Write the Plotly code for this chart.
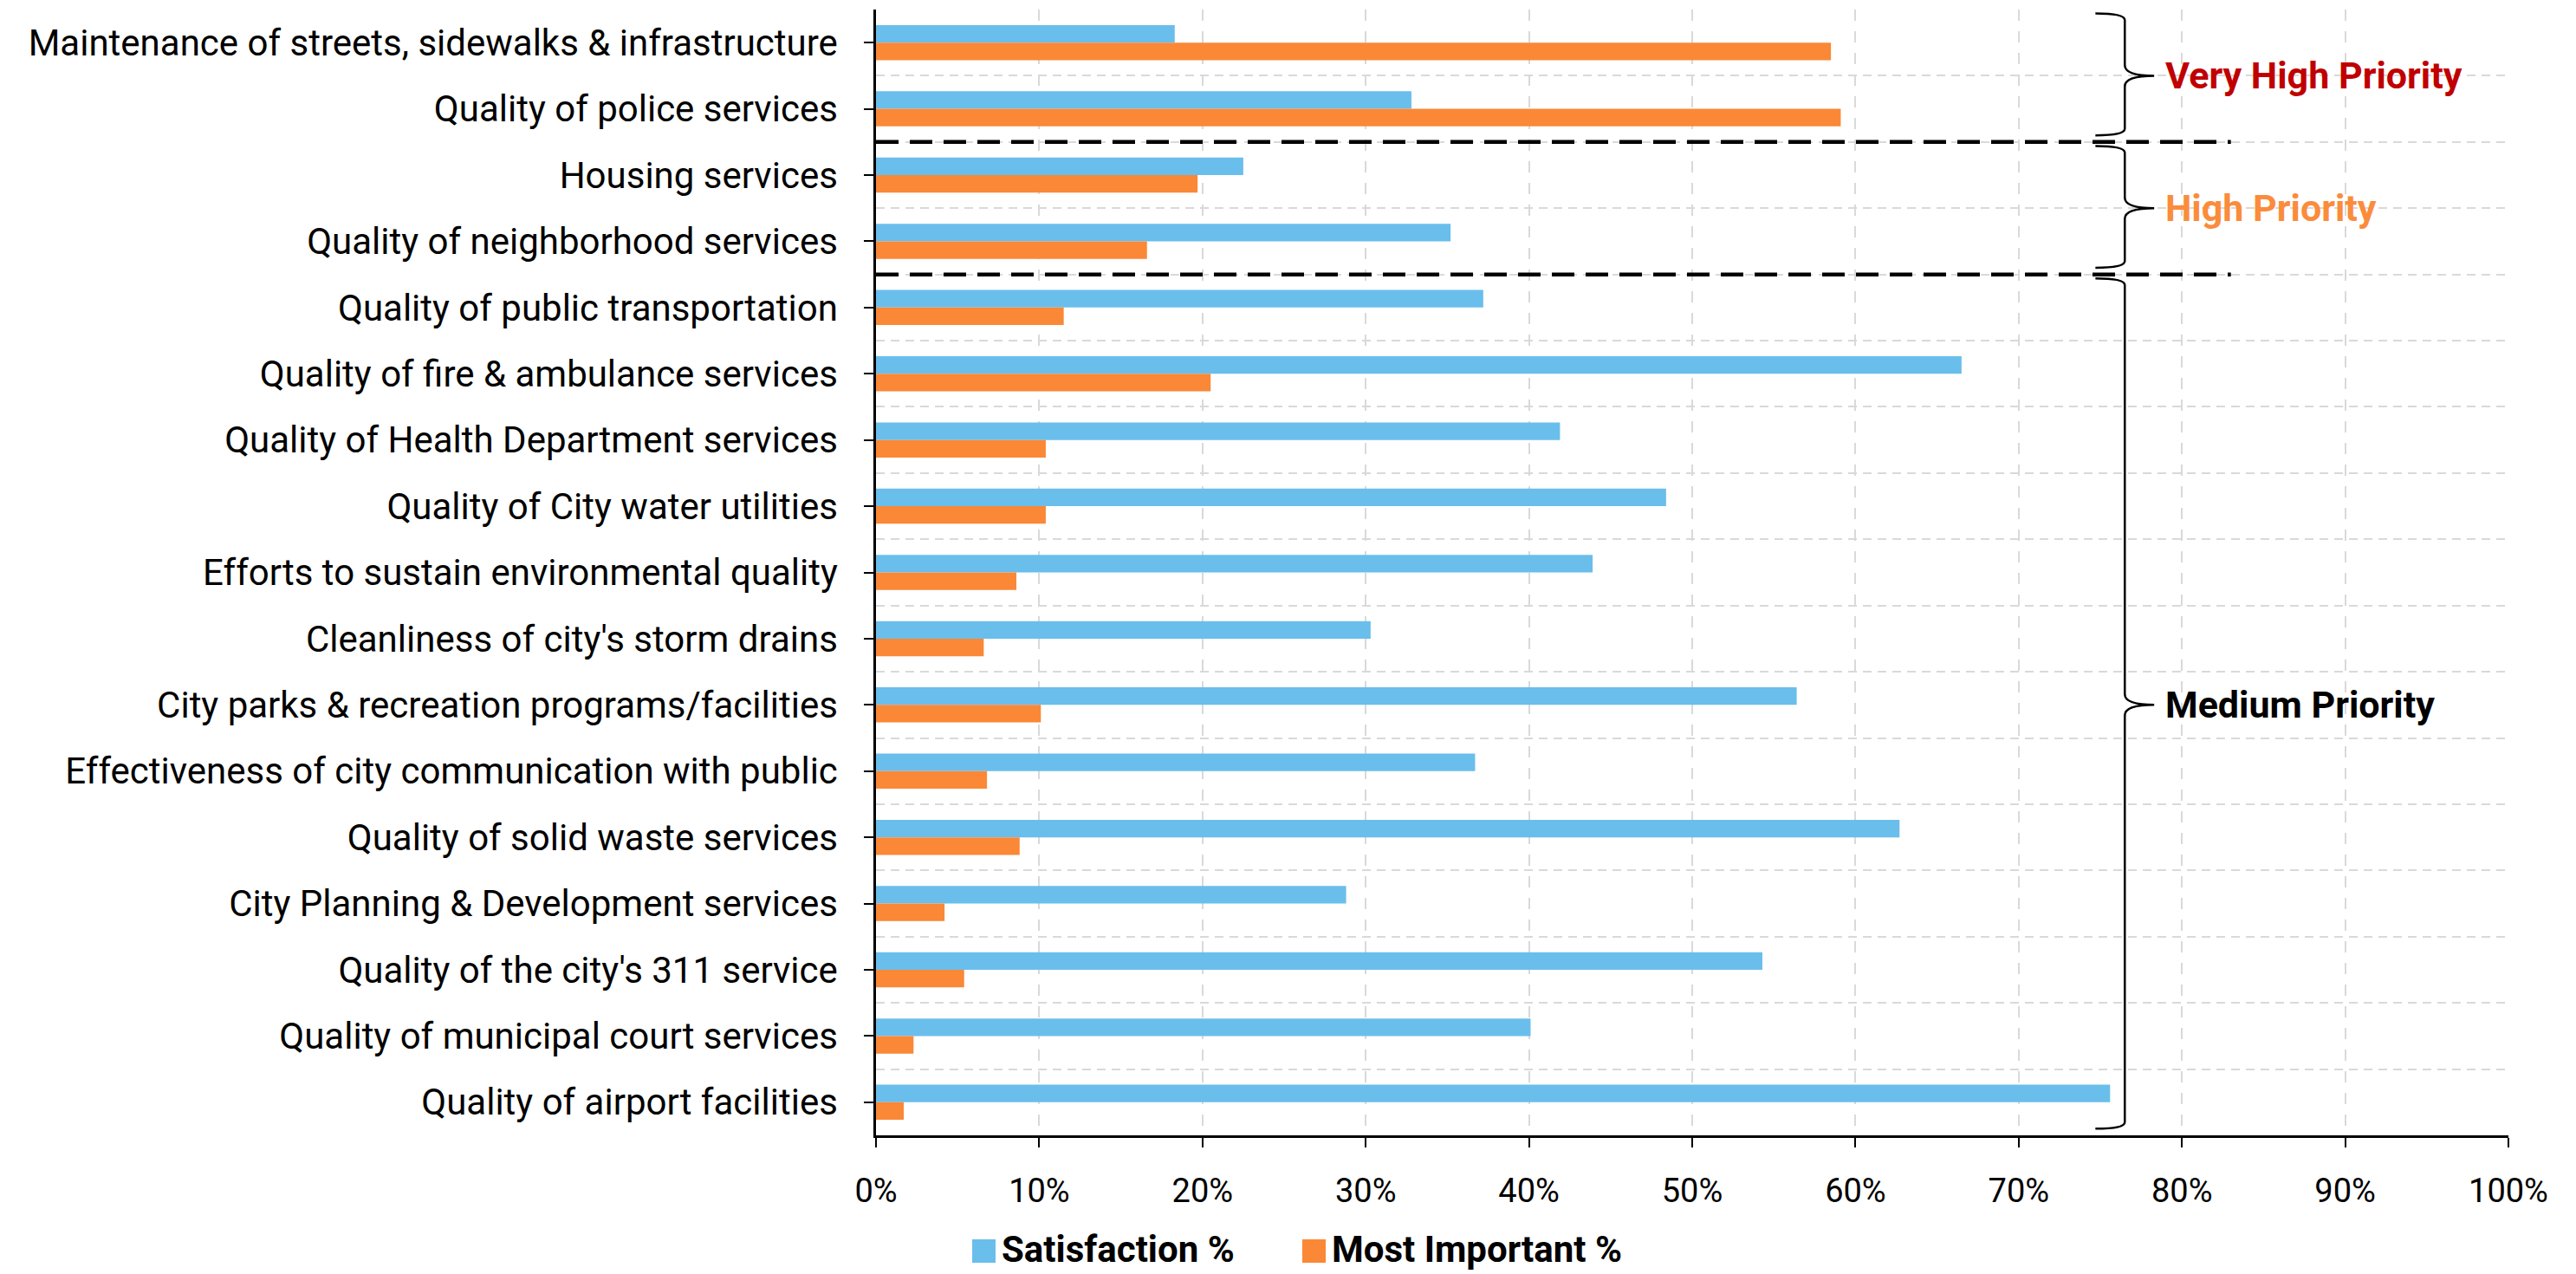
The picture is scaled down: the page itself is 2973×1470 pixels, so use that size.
import plotly.graph_objects as go

categories = [
    "Maintenance of streets, sidewalks & infrastructure",
    "Quality of police services",
    "Housing services",
    "Quality of neighborhood services",
    "Quality of public transportation",
    "Quality of fire & ambulance services",
    "Quality of Health Department services",
    "Quality of City water utilities",
    "Efforts to sustain environmental quality",
    "Cleanliness of city's storm drains",
    "City parks & recreation programs/facilities",
    "Effectiveness of city communication with public",
    "Quality of solid waste services",
    "City Planning & Development services",
    "Quality of the city's 311 service",
    "Quality of municipal court services",
    "Quality of airport facilities",
]
satisfaction = [0.183, 0.328, 0.225, 0.352, 0.372, 0.665, 0.419, 0.484, 0.439,
                0.303, 0.564, 0.367, 0.627, 0.288, 0.543, 0.401, 0.756]
most_important = [0.585, 0.591, 0.197, 0.166, 0.115, 0.205, 0.104, 0.104, 0.086,
                  0.066, 0.101, 0.068, 0.088, 0.042, 0.054, 0.023, 0.017]
x_tick_vals = [0.0, 0.1, 0.2, 0.3, 0.4, 0.5, 0.6, 0.7, 0.8, 0.9, 1.0]
x_tick_labels = ["0%", "10%", "20%", "30%", "40%", "50%", "60%", "70%", "80%", "90%", "100%"]
series_names = ["Satisfaction %", "Most Important %"]
priority_names = ["Very High Priority", "High Priority", "Medium Priority"]
priority_first = [0, 2, 4]
priority_last = [1, 3, 16]

BLUE = "#6ABEEB"
ORANGE = "#FA8836"
PRIORITY_COLORS = ["#C00000", "#FA8C3C", "#000000"]
FONT = "Roboto, sans-serif"

W, H = 2973, 1470
ML, MR, MT, MB = 1011, 78, 11, 160
PW = W - ML - MR
PH = H - MT - MB

positions = list(range(len(categories)))

fig = go.Figure()
fig.add_trace(go.Bar(y=positions, x=satisfaction, orientation="h", name=series_names[0],
                     marker=dict(color=BLUE, line=dict(width=0)), showlegend=False))
fig.add_trace(go.Bar(y=positions, x=most_important, orientation="h", name=series_names[1],
                     marker=dict(color=ORANGE, line=dict(width=0)), showlegend=False))

shapes = []
# group separators
for last in priority_last[:-1]:
    shapes.append(dict(type="line", xref="x", yref="y", x0=0, x1=0.83,
                       y0=last + 0.5, y1=last + 0.5,
                       line=dict(color="black", width=4.5, dash="26px,13px"), layer="above"))

# braces
x_end, x_spine, x_tip = 0.747, 0.765, 0.783
annotations = []
for name, first, last, col in zip(priority_names, priority_first, priority_last, PRIORITY_COLORS):
    ytop = first - 0.44
    ybot = last + 0.4
    ymid = (first + last) / 2.0
    re_, rm = 0.1, 0.16
    path = (f"M {x_end},{ytop} Q {x_spine},{ytop} {x_spine},{ytop + re_} "
            f"L {x_spine},{ymid - rm} Q {x_spine},{ymid} {x_tip},{ymid} "
            f"Q {x_spine},{ymid} {x_spine},{ymid + rm} "
            f"L {x_spine},{ybot - re_} Q {x_spine},{ybot} {x_end},{ybot}")
    shapes.append(dict(type="path", xref="x", yref="y", path=path,
                       line=dict(color="black", width=2.5), layer="above"))
    annotations.append(dict(xref="x", yref="y", x=0.789, y=ymid, text=f"<b>{name}</b>",
                            showarrow=False, xanchor="left", yanchor="middle",
                            font=dict(family=FONT, size=43, color=col)))

# manual legend (large square swatches)
def px_x(px):
    return (px - ML) / PW

def px_y(py):
    return (H - MB - py) / PH

legend_items = [(series_names[0], BLUE, 1122), (series_names[1], ORANGE, 1503)]
for name, col, sx in legend_items:
    shapes.append(dict(type="rect", xref="paper", yref="paper",
                       x0=px_x(sx), x1=px_x(sx + 27), y0=px_y(1430), y1=px_y(1457),
                       fillcolor=col, line=dict(width=0)))
    annotations.append(dict(xref="paper", yref="paper", x=px_x(sx + 32), y=px_y(1442),
                            text=f"<b>{name}</b>", showarrow=False,
                            xanchor="left", yanchor="middle",
                            font=dict(family=FONT, size=42, color="black")))

fig.update_layout(
    width=W, height=H,
    margin=dict(l=ML, r=MR, t=MT, b=MB, pad=0),
    paper_bgcolor="white", plot_bgcolor="white",
    barmode="group", bargap=0.47, bargroupgap=0,
    showlegend=False,
    font=dict(family=FONT, size=38, color="black"),
    shapes=shapes, annotations=annotations,
    xaxis=dict(range=[0, 1], tickvals=x_tick_vals, ticktext=x_tick_labels,
               showgrid=True, gridcolor="#D9D9D9", gridwidth=2, griddash="13px,12px",
               showline=True, linecolor="black", linewidth=2.5,
               ticks="outside", ticklen=11, tickwidth=2, tickcolor="black",
               ticklabelstandoff=18, zeroline=False,
               tickfont=dict(family=FONT, size=38, color="black")),
    yaxis=dict(range=[len(categories) - 0.5, -0.5], tickvals=positions, ticktext=categories,
               showgrid=False, zeroline=False,
               showline=True, linecolor="black", linewidth=2.5,
               ticks="outside", ticklen=11, tickwidth=2, tickcolor="black",
               ticklabelstandoff=22,
               tickfont=dict(family=FONT, size=42, color="black"),
               minor=dict(tick0=0.5, dtick=1, showgrid=True, gridcolor="#D9D9D9",
                          gridwidth=2, griddash="10px,7px", ticks="")),
)

fig.write_html(
    "out.html",
    config={"displayModeBar": False},
    post_script="document.body.style.margin='0';document.body.style.padding='0';"
                "document.documentElement.style.overflow='hidden';",
)
